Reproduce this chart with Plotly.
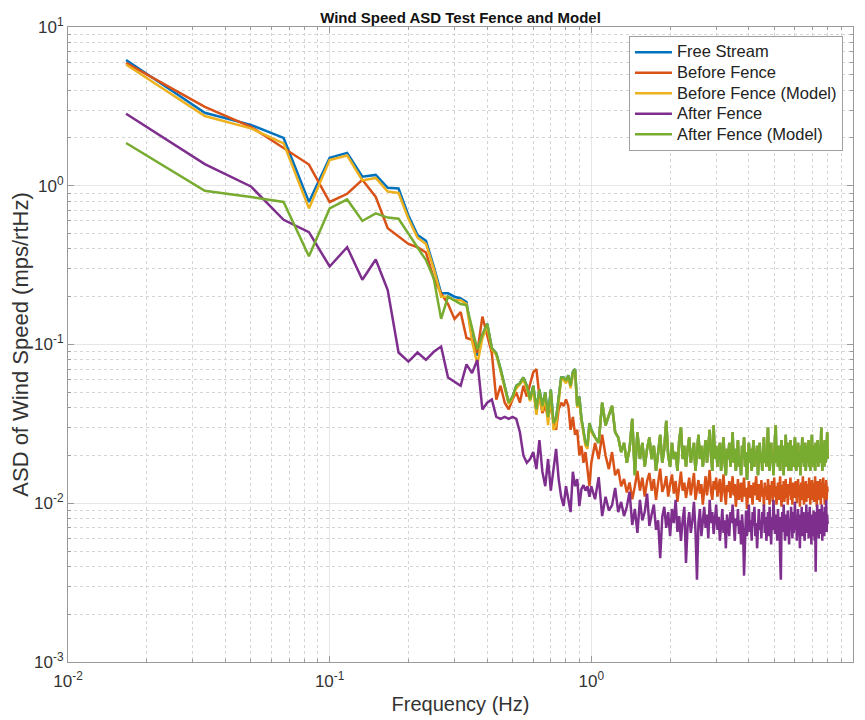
import plotly.graph_objects as go

# ---------------- data ----------------
# FFT bins (df = 1/60 Hz): every bin up to 1 Hz, every second bin above 1 Hz
bin_index = list(range(1, 61)) + list(range(62, 481, 2))
frequency_hz = [k / 60 for k in bin_index]

# Below 1 Hz (bins 1..60)
free_stream_lf = [
    6.2, 2.88, 2.42, 2.0, 0.79, 1.5, 1.61, 1.14, 1.17, 0.97,
    0.96, 0.65, 0.49, 0.45, 0.31, 0.21, 0.21, 0.2, 0.195, 0.185,
    0.11, 0.085, 0.115, 0.135, 0.095, 0.088, 0.07, 0.055, 0.043, 0.047,
    0.055, 0.057, 0.062, 0.055, 0.045, 0.055, 0.039, 0.052, 0.041, 0.05,
    0.035, 0.052, 0.032, 0.034, 0.045, 0.062, 0.062, 0.059, 0.064, 0.055,
    0.067, 0.07, 0.041, 0.047, 0.034, 0.029, 0.024, 0.023, 0.032, 0.029,
]
before_fence_lf = [
    5.95, 3.14, 2.35, 1.73, 1.36, 0.79, 0.89, 1.09, 0.85, 0.54,
    0.48, 0.43, 0.41, 0.38, 0.26, 0.21, 0.18, 0.145, 0.16, 0.11,
    0.107, 0.089, 0.15, 0.115, 0.088, 0.045, 0.055, 0.043, 0.039, 0.045,
    0.05, 0.043, 0.055, 0.047, 0.057, 0.067, 0.07, 0.047, 0.037, 0.041,
    0.035, 0.041, 0.034, 0.029, 0.039, 0.043, 0.041, 0.045, 0.041, 0.029,
    0.035, 0.027, 0.029, 0.02, 0.023, 0.018, 0.021, 0.0168, 0.0128, 0.018,
]
before_model_lf = [
    5.8, 2.75, 2.3, 1.85, 0.72, 1.45, 1.55, 1.08, 1.12, 0.92,
    0.9, 0.62, 0.47, 0.43, 0.3, 0.2, 0.2, 0.19, 0.19, 0.18,
    0.105, 0.075, 0.11, 0.13, 0.093, 0.086, 0.068, 0.054, 0.042, 0.046,
    0.053, 0.056, 0.06, 0.053, 0.044, 0.052, 0.036, 0.049, 0.038, 0.047,
    0.031, 0.05, 0.029, 0.031, 0.043, 0.06, 0.06, 0.057, 0.062, 0.053,
    0.065, 0.068, 0.04, 0.045, 0.033, 0.028, 0.023, 0.022, 0.031, 0.028,
]
after_fence_lf = [
    2.84, 1.37, 0.99, 0.61, 0.51, 0.31, 0.41, 0.256, 0.343, 0.22,
    0.089, 0.078, 0.089, 0.08, 0.09, 0.097, 0.062, 0.058, 0.055, 0.075,
    0.066, 0.08, 0.039, 0.043, 0.045, 0.035, 0.034, 0.035, 0.034, 0.035,
    0.034, 0.028, 0.02, 0.018, 0.019, 0.021, 0.0164, 0.025, 0.0158, 0.0128,
    0.019, 0.012, 0.017, 0.022, 0.0142, 0.011, 0.0096, 0.0128, 0.0106, 0.0088,
    0.0158, 0.0128, 0.0142, 0.0096, 0.0123, 0.013, 0.012, 0.0128, 0.011, 0.0128,
]
after_model_lf = [
    1.86, 0.93, 0.85, 0.79, 0.36, 0.72, 0.82, 0.6, 0.67, 0.63,
    0.62, 0.5, 0.41, 0.34, 0.26, 0.145, 0.2, 0.19, 0.18, 0.177,
    0.125, 0.093, 0.115, 0.135, 0.095, 0.088, 0.07, 0.055, 0.043, 0.047,
    0.055, 0.057, 0.062, 0.055, 0.045, 0.055, 0.039, 0.052, 0.041, 0.05,
    0.035, 0.052, 0.032, 0.034, 0.045, 0.062, 0.062, 0.059, 0.064, 0.055,
    0.067, 0.07, 0.041, 0.047, 0.034, 0.029, 0.024, 0.023, 0.032, 0.029,
]

# Above 1 Hz (bins 62..480, step 2); free stream and both models coincide here
model_hf = [
    0.026, 0.024, 0.043, 0.031, 0.036, 0.041, 0.028, 0.026, 0.021, 0.024,
    0.018, 0.022, 0.034, 0.015, 0.028, 0.019, 0.024, 0.017, 0.022, 0.026,
    0.019, 0.023, 0.016, 0.021, 0.027, 0.018, 0.022, 0.033, 0.02, 0.017,
    0.024, 0.019, 0.021, 0.016, 0.025, 0.03, 0.019, 0.023, 0.017, 0.022,
    0.026, 0.018, 0.021, 0.024, 0.016, 0.02, 0.027, 0.019, 0.023, 0.017,
    0.021, 0.025, 0.018, 0.022, 0.029, 0.02, 0.016, 0.031, 0.019, 0.023,
    0.017, 0.021, 0.024, 0.016, 0.02, 0.026, 0.018, 0.015, 0.022, 0.019,
    0.024, 0.017, 0.02, 0.028, 0.018, 0.022, 0.016, 0.021, 0.025, 0.017,
    0.02, 0.015, 0.023, 0.019, 0.026, 0.017, 0.021, 0.014, 0.019, 0.024,
    0.018, 0.022, 0.016, 0.02, 0.025, 0.017, 0.021, 0.019, 0.023, 0.015,
    0.02, 0.024, 0.018, 0.021, 0.016, 0.022, 0.026, 0.018, 0.02, 0.017,
    0.023, 0.03, 0.019, 0.016, 0.021, 0.024, 0.018, 0.02, 0.015, 0.022,
    0.026, 0.031, 0.018, 0.021, 0.017, 0.023, 0.019, 0.016, 0.022, 0.025,
    0.018, 0.02, 0.015, 0.023, 0.019, 0.027, 0.017, 0.021, 0.024, 0.016,
    0.02, 0.018, 0.025, 0.016, 0.022, 0.019, 0.023, 0.017, 0.021, 0.026,
    0.018, 0.016, 0.022, 0.02, 0.024, 0.017, 0.021, 0.019, 0.015, 0.023,
    0.02, 0.026, 0.018, 0.022, 0.017, 0.021, 0.024, 0.016, 0.02, 0.018,
    0.023, 0.019, 0.025, 0.017, 0.021, 0.016, 0.022, 0.02, 0.027, 0.018,
    0.021, 0.017, 0.023, 0.019, 0.016, 0.024, 0.02, 0.018, 0.022, 0.025,
    0.017, 0.021, 0.019, 0.023, 0.018, 0.022, 0.03, 0.02, 0.016, 0.024,
    0.019, 0.022, 0.017, 0.025, 0.02, 0.018, 0.023, 0.021, 0.028, 0.019,
]
before_fence_hf = [
    0.024, 0.019, 0.027, 0.02, 0.0164, 0.021, 0.015, 0.0164, 0.0128, 0.0142,
    0.0117, 0.0135, 0.0106, 0.0128, 0.016, 0.012, 0.0145, 0.011, 0.0138, 0.0155,
    0.012, 0.0142, 0.0105, 0.0135, 0.0165, 0.0118, 0.0128, 0.0148, 0.011, 0.0132,
    0.0152, 0.0115, 0.0138, 0.0102, 0.0125, 0.0158, 0.012, 0.0135, 0.0108, 0.013,
    0.0145, 0.0112, 0.0128, 0.0155, 0.0105, 0.0122, 0.014, 0.0115, 0.0132, 0.0098,
    0.0125, 0.0148, 0.0112, 0.0135, 0.0162, 0.0118, 0.0105, 0.0138, 0.0122, 0.0145,
    0.011, 0.0128, 0.0142, 0.0102, 0.012, 0.0152, 0.0115, 0.0098, 0.013, 0.0118,
    0.0138, 0.0108, 0.0125, 0.0148, 0.0112, 0.0132, 0.0095, 0.0122, 0.0142, 0.0105,
    0.0118, 0.0135, 0.0102, 0.0128, 0.0145, 0.011, 0.0125, 0.0092, 0.012, 0.0138,
    0.0108, 0.013, 0.0115, 0.0098, 0.0135, 0.0112, 0.0128, 0.0148, 0.0105, 0.012,
    0.0132, 0.0102, 0.0118, 0.014, 0.011, 0.0125, 0.0095, 0.0135, 0.0115, 0.0128,
    0.0105, 0.0142, 0.012, 0.0098, 0.013, 0.0112, 0.0138, 0.0102, 0.0122, 0.0145,
    0.011, 0.0128, 0.0098, 0.0118, 0.0135, 0.0105, 0.0125, 0.0148, 0.0112, 0.0095,
    0.013, 0.0115, 0.0138, 0.0102, 0.012, 0.0142, 0.0108, 0.0125, 0.0098, 0.0132,
    0.0112, 0.0128, 0.0145, 0.0105, 0.0122, 0.0098, 0.0135, 0.0115, 0.0128, 0.0108,
    0.0138, 0.0118, 0.01, 0.0125, 0.0142, 0.011, 0.013, 0.0095, 0.012, 0.0135,
    0.0105, 0.0122, 0.0148, 0.0112, 0.0098, 0.0128, 0.0115, 0.0138, 0.0102, 0.012,
    0.0132, 0.0108, 0.0125, 0.0145, 0.0112, 0.0098, 0.0128, 0.0118, 0.014, 0.0105,
    0.0122, 0.0135, 0.0102, 0.0118, 0.0148, 0.011, 0.0128, 0.0095, 0.0125, 0.0138,
    0.0112, 0.013, 0.0105, 0.0122, 0.0142, 0.0098, 0.0118, 0.0135, 0.011, 0.0128,
    0.0145, 0.0108, 0.0125, 0.0098, 0.0132, 0.0115, 0.014, 0.0105, 0.0128, 0.0118,
]
after_fence_hf = [
    0.0106, 0.0146, 0.0083, 0.011, 0.009, 0.0097, 0.0125, 0.0088, 0.0102, 0.0083,
    0.0095, 0.0118, 0.0073, 0.0092, 0.0065, 0.0105, 0.0078, 0.0088, 0.0115, 0.0072,
    0.0085, 0.0098, 0.0068, 0.0078, 0.0045, 0.0082, 0.0095, 0.007, 0.0088, 0.0062,
    0.0092, 0.0075, 0.0105, 0.0066, 0.0083, 0.0058, 0.0078, 0.0095, 0.0042, 0.0072,
    0.0088, 0.0065, 0.0078, 0.0102, 0.0068, 0.0033, 0.0075, 0.0092, 0.0062, 0.0082,
    0.0095, 0.007, 0.0085, 0.006, 0.0105, 0.0075, 0.0088, 0.0064, 0.0078, 0.0098,
    0.0068, 0.0082, 0.0058, 0.0075, 0.0092, 0.0065, 0.0078, 0.0052, 0.0085, 0.0072,
    0.0062, 0.0088, 0.0075, 0.0098, 0.0066, 0.0058, 0.008, 0.0072, 0.0092, 0.0064,
    0.0078, 0.0055, 0.0085, 0.0068, 0.0035, 0.0075, 0.009, 0.0062, 0.0082, 0.0098,
    0.0066, 0.0078, 0.0058, 0.0088, 0.0072, 0.0095, 0.0062, 0.0075, 0.0052, 0.0085,
    0.0092, 0.0068, 0.0078, 0.006, 0.0088, 0.0074, 0.0098, 0.0065, 0.0082, 0.0058,
    0.0075, 0.0088, 0.0062, 0.0095, 0.007, 0.0055, 0.0082, 0.0068, 0.0105, 0.0072,
    0.0064, 0.0085, 0.0078, 0.0058, 0.0092, 0.007, 0.0082, 0.0045, 0.0033, 0.0075,
    0.0088, 0.0066, 0.0098, 0.0072, 0.0058, 0.0085, 0.0075, 0.0062, 0.009, 0.007,
    0.0055, 0.008, 0.0068, 0.0095, 0.0074, 0.006, 0.0088, 0.0065, 0.0078, 0.0102,
    0.0068, 0.0082, 0.0058, 0.0075, 0.0092, 0.0064, 0.0078, 0.0052, 0.0085, 0.007,
    0.0095, 0.0062, 0.0078, 0.0088, 0.0066, 0.0058, 0.0082, 0.0072, 0.0098, 0.0065,
    0.0078, 0.0088, 0.006, 0.0074, 0.0095, 0.0068, 0.0082, 0.0055, 0.0085, 0.0072,
    0.0062, 0.009, 0.0075, 0.0058, 0.0088, 0.0037, 0.0068, 0.0082, 0.0098, 0.0066,
    0.0078, 0.006, 0.0092, 0.007, 0.0085, 0.0064, 0.0075, 0.0098, 0.0058, 0.0082,
    0.0072, 0.0088, 0.0062, 0.0095, 0.0068, 0.008, 0.0105, 0.0066, 0.0085, 0.0074,
]

series_names = ["Free Stream", "Before Fence", "Before Fence (Model)",
                "After Fence", "After Fence (Model)"]
series_values = [
    free_stream_lf + model_hf,
    before_fence_lf + before_fence_hf,
    before_model_lf + model_hf,
    after_fence_lf + after_fence_hf,
    after_model_lf + model_hf,
]
series_colors = ["#0072BD", "#D95319", "#EDB120", "#7E2F8E", "#77AC30"]

x_tick_vals = [0.01, 0.1, 1, 10]
x_tick_text = ["10<sup>-2</sup>", "10<sup>-1</sup>", "10<sup>0</sup>", "10<sup>1</sup>"]
y_tick_vals = [0.001, 0.01, 0.1, 1, 10]
y_tick_text = ["10<sup>-3</sup>", "10<sup>-2</sup>", "10<sup>-1</sup>",
               "10<sup>0</sup>", "10<sup>1</sup>"]

# minor tick positions (2..9 in each decade)
x_minor = [m * 10.0 ** e for e in range(-2, 1) for m in range(2, 10)]
y_minor = [m * 10.0 ** e for e in range(-3, 1) for m in range(2, 10)]

# ---------------- figure ----------------
FONT = "Liberation Sans, Arial, Helvetica, sans-serif"
AXIS_C = "#9a9a9a"

fig = go.Figure()
for name, vals, col in zip(series_names, series_values, series_colors):
    fig.add_trace(go.Scatter(
        x=frequency_hz, y=vals, mode="lines",
        name='<span style="font-size:16.5px">' + name + "</span>",
        line=dict(color=col, width=2.5),
    ))

axis_common = dict(
    type="log",
    tickmode="array",
    ticks="inside",
    ticklen=6,
    tickwidth=1,
    tickcolor=AXIS_C,
    showline=True,
    linecolor=AXIS_C,
    linewidth=1,
    mirror="ticks",
    showgrid=True,
    gridcolor="#e6e6e6",
    gridwidth=1,
    zeroline=False,
    tickfont=dict(family=FONT, size=17, color="#333333"),
)

fig.update_xaxes(
    **axis_common,
    range=[-2, 1],
    tickvals=x_tick_vals,
    ticktext=x_tick_text,
    ticklabelstandoff=4,
    minor=dict(tickmode="array", tickvals=x_minor, ticks="inside", ticklen=3,
               tickcolor=AXIS_C, showgrid=True, gridcolor="#d4d4d4",
               griddash="dot", gridwidth=1),
    title=dict(text="Frequency (Hz)", font=dict(family=FONT, size=20, color="#333333"),
               standoff=6),
)
fig.update_yaxes(
    **axis_common,
    range=[-3, 1],
    tickvals=y_tick_vals,
    ticktext=y_tick_text,
    minor=dict(tickmode="array", tickvals=y_minor, ticks="inside", ticklen=3,
               tickcolor=AXIS_C, showgrid=True, gridcolor="#d4d4d4",
               griddash="dot", gridwidth=1),
    title=dict(text="ASD of Wind Speed (mps/rtHz)",
               font=dict(family=FONT, size=22, color="#333333"), standoff=4),
)

# the page body keeps its default 8px margin, so the figure is 8px smaller
fig.update_layout(
    width=857,
    height=712,
    margin=dict(l=60, r=12, t=19, b=58, autoexpand=False),
    paper_bgcolor="white",
    plot_bgcolor="white",
    title=dict(text="Wind Speed ASD Test Fence and Model",
               font=dict(family=FONT, size=15, color="#111111", weight="bold"),
               x=0.5, xanchor="center", xref="paper",
               y=1 - 10 / 712, yanchor="middle", yref="container"),
    legend=dict(
        x=0.7146, y=0.986, xanchor="left", yanchor="top",
        bgcolor="white", bordercolor="#a0a0a0", borderwidth=1,
        font=dict(family=FONT, size=13.5, color="#222222"),
        tracegroupgap=0, itemwidth=37,
    ),
    showlegend=True,
)

fig.write_html("out.html")
